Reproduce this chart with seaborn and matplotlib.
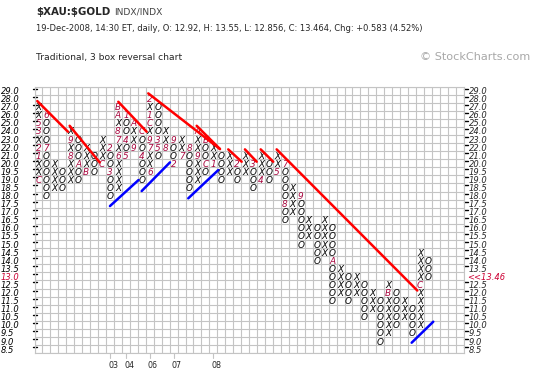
import numpy as np
import pandas as pd
import matplotlib
matplotlib.use('Agg')
import matplotlib.pyplot as plt
import matplotlib.transforms as mtransforms
import seaborn as sns

sns.set_style('white')
plt.rcParams['font.family'] = ['DejaVu Sans']

# price of each box row, top to bottom
levels = [29.0, 28.0, 27.0, 26.0, 25.0, 24.0, 23.0, 22.0, 21.0, 20.0,
          19.5, 19.0, 18.5, 18.0, 17.5, 17.0, 16.5, 16.0, 15.5, 15.0,
          14.5, 14.0, 13.5, 13.0, 12.5, 12.0, 11.5, 11.0, 10.5, 10.0,
          9.5, 9.0, 8.5]

# columns alternate X / O, starting with X
col_low = [19.0, 18.0, 18.5, 18.5, 19.0, 19.0, 19.5, 19.5, 20.0, 18.0,
           18.5, 21.0, 22.0, 19.0, 19.5, 21.0, 22.0, 20.0, 21.0, 18.5,
           19.0, 19.5, 20.0, 19.0, 19.5, 19.0, 19.5, 18.5, 19.0, 19.0,
           19.5, 16.5, 17.0, 15.0, 15.5, 14.0, 14.5, 11.5, 12.0, 11.5,
           12.0, 10.5, 11.0, 9.0, 9.5, 10.0, 10.5, 9.5, 10.0, 13.0]
col_high = [27.0, 26.0, 20.0, 19.5, 24.0, 23.0, 22.0, 21.0, 23.0, 22.0,
            27.0, 26.0, 25.0, 24.0, 28.0, 27.0, 24.0, 23.0, 23.0, 22.0,
            24.0, 23.0, 22.0, 21.0, 21.0, 20.0, 21.0, 20.0, 21.0, 20.0,
            21.0, 20.0, 18.5, 18.0, 16.5, 16.0, 16.5, 16.0, 13.5, 13.0,
            13.0, 12.5, 12.0, 11.5, 12.5, 12.0, 11.5, 11.0, 14.5, 14.0]

# month markers (1-9, A=Oct, B=Nov, C=Dec)
month_col = [0, 0, 0, 0, 0, 1, 1, 4, 4, 5, 6, 8, 9, 9,
             10, 10, 10, 10, 10, 11, 11, 11, 12, 12, 13, 13,
             14, 14, 14, 14, 14, 14, 15, 15, 16, 17, 17, 18, 19,
             20, 20, 21, 21, 22, 25, 27, 28, 30, 31, 31, 33, 37, 44, 48]
month_price = [19.0, 21.0, 22.0, 24.0, 25.0, 26.0, 22.0, 21.0, 23.0, 20.0, 19.5, 20.0, 22.0, 19.5,
               21.0, 23.0, 24.0, 26.0, 27.0, 26.0, 23.0, 21.0, 22.0, 25.0, 24.0, 21.0,
               19.5, 22.0, 23.0, 25.0, 26.0, 28.0, 23.0, 22.0, 22.0, 23.0, 20.0, 21.0, 22.0,
               21.0, 24.0, 23.0, 20.0, 20.0, 20.0, 20.0, 19.0, 19.5, 20.0, 17.5, 18.0, 14.0, 12.0, 12.5]
month_label = ['C', '1', '2', '3', '5', '6', '7', '8', '9', 'A', 'B', 'C', '2', '3',
               '6', '7', '8', 'A', 'B', '1', '4', '5', '9', 'A', 'C', '4',
               '6', '7', '9', 'C', '1', '2', '3', '5', '8', '9', '2', '7', '8',
               '9', 'A', 'B', 'C', '1', '2', '3', '4', '5', '7', '8', '9', 'A', 'B', 'C']

year_col = [9, 11, 14, 17, 22]
year_label = ['03', '04', '06', '07', '08']

# trend lines: start/end column and price
line_kind = ['red'] * 9 + ['blue'] * 4
line_c0 = [-0.15, 3.92, 10.04, 13.81, 19.9, 23.87, 25.97, 27.95, 29.96, 8.99, 12.98, 18.84, 46.94]
line_p0 = [27.7, 24.64, 27.61, 28.65, 24.64, 21.72, 21.72, 21.72, 21.72, 17.35, 18.28, 17.83, 8.895]
line_c1 = [3.71, 7.70, 13.61, 22.83, 22.83, 25.56, 27.45, 29.53, 47.65, 12.58, 16.54, 22.62, 49.66]
line_p1 = [23.9, 20.11, 23.9, 21.76, 21.76, 20.19, 20.19, 20.19, 12.125, 18.96, 20.11, 19.58, 10.195]

last_price = 13.46
last_level = 13.0

W, H = 533, 377
n_cols = 54
n_rows = len(levels)
rows = np.arange(n_rows)


def to_row(p):
    return np.interp(p, levels[::-1], rows[::-1])


fig = plt.figure(figsize=(W / 100, H / 100), dpi=100)
top_px, cell_h = 86.5, 8.08
left_px, cell_w = 34.5, 7.95
ax = fig.add_axes([left_px / W, 1 - (top_px + n_rows * cell_h) / H,
                   n_cols * cell_w / W, n_rows * cell_h / H])
ax.set_xlim(-0.5, n_cols - 0.5)
ax.set_ylim(n_rows - 0.5, -0.5)

grid_c = '#c4c4c4'
ax.set_xticks(np.arange(-0.5, n_cols, 1), minor=True)
ax.set_yticks(np.arange(-0.5, n_rows, 1), minor=True)
ax.set_xticks([])
ax.set_yticks([])
ax.grid(which='minor', color=grid_c, lw=0.8)
ax.tick_params(which='both', length=0)
for s in ax.spines.values():
    s.set_color(grid_c)
    s.set_linewidth(0.8)

# X and O boxes
mcolor = '#a8063e'
marks = {(c, p): l for c, p, l in zip(month_col, month_price, month_label)}
for c, (lo, hi) in enumerate(zip(col_low, col_high)):
    kind = 'X' if c % 2 == 0 else 'O'
    for p in levels:
        if lo <= p <= hi:
            ch = marks.get((c, p), kind)
            ax.text(c, to_row(p), ch, ha='center', va='center_baseline',
                    fontsize=6.4, style='italic',
                    color=mcolor if ch != kind else 'black', zorder=2)

# trend lines
tl = []
for i, k in enumerate(line_kind):
    tl.append((i, k, line_c0[i], to_row(line_p0[i])))
    tl.append((i, k, line_c1[i], to_row(line_p1[i])))
tl = pd.DataFrame(tl, columns=['line', 'kind', 'col', 'row'])
sns.lineplot(data=tl, x='col', y='row', units='line', estimator=None, hue='kind',
             palette={'red': '#ff0000', 'blue': '#0000ff'}, legend=False,
             lw=1.8, ax=ax, zorder=3)
ax.set_xlabel('')
ax.set_ylabel('')
ax.set_xlim(-0.5, n_cols - 0.5)
ax.set_ylim(n_rows - 0.5, -0.5)

# price scales on both sides
ty = mtransforms.blended_transform_factory(fig.transFigure, ax.transData)
for r, p in enumerate(levels):
    red = p == last_level
    ax.text(1 / W, r, f'{p:.1f}', transform=ty, ha='left', va='center_baseline',
            fontsize=6, style='italic', color='#cc0033' if red else 'black')
    ax.plot([32.5 / W, 36.5 / W], [r - 0.25, r - 0.25], transform=ty,
            color='black', lw=1, clip_on=False)
    if red:
        ax.text(467 / W, r, f'<<{last_price:.2f}', transform=ty, ha='left',
                va='center_baseline', fontsize=6, style='italic', color='#cc0033')
    else:
        ax.plot([463.5 / W, 467.5 / W], [r - 0.25, r - 0.25], transform=ty,
                color='black', lw=1, clip_on=False)
        ax.text(468.5 / W, r, f'{p:.1f}', transform=ty, ha='left',
                va='center_baseline', fontsize=6, style='italic')

# year ticks along the bottom
tx = mtransforms.blended_transform_factory(ax.transData, fig.transFigure)
y0 = 1 - (top_px + n_rows * cell_h) / H
for c, lab in zip(year_col, year_label):
    ax.plot([c, c], [y0, y0 - 5 / H], transform=tx, color=grid_c, lw=0.8, clip_on=False)
    ax.text(c + 0.4, 1 - 365 / H, lab, transform=tx, ha='center', va='center',
            fontsize=5.8)

# header
fig.text(36 / W, 1 - 12 / H, '$XAU:$GOLD', fontsize=7.4, fontweight='bold',
         va='center', parse_math=False)
fig.text(114 / W, 1 - 12 / H, 'INDX/INDX', fontsize=6.6, color='#444444', va='center')
fig.text(36 / W, 1 - 28.5 / H,
         '19-Dec-2008, 14:30 ET, daily, O: 12.92, H: 13.55, L: 12.856, C: 13.464, '
         'Chg: +0.583 (4.52%)', fontsize=6.05, va='center')
fig.text(36 / W, 1 - 57.5 / H, 'Traditional, 3 box reversal chart', fontsize=6.6,
         va='center')
fig.text(530 / W, 1 - 57.5 / H, '\u00a9 StockCharts.com', fontsize=8.1,
         color='#a8a8a8', ha='right', va='center')

fig.savefig('out.png', dpi=100)
